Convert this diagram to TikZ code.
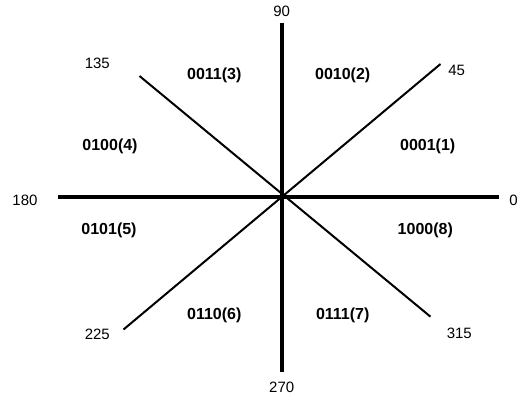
\documentclass[tikz,border=0pt]{standalone}
\usepackage{fontspec}
\setmainfont{Liberation Sans}
\begin{document}
\begin{tikzpicture}[x=1pt,y=-1pt,
  axis/.style={line width=4pt},
  diag/.style={line width=2pt},
  ang/.style={font=\fontsize{15}{15}\selectfont, inner sep=0pt},
  code/.style={font=\fontsize{16}{16}\selectfont\bfseries, inner sep=0pt}]
\useasboundingbox (0,0) rectangle (525,400);
\coordinate (c) at (282,196.5);
\coordinate (n) at (282,22.7);
\coordinate (s) at (282,371.7);
\coordinate (w) at (58.3,196.5);
\coordinate (e) at (499,196.5);
\coordinate (ne) at (440.5,64);
\coordinate (nw) at (139.5,76);
\coordinate (sw) at (123.5,329.5);
\coordinate (se) at (430.5,316.7);
\draw[axis] (w) -- (e);
\draw[axis] (n) -- (s);
\draw[diag] (ne) -- (sw);
\draw[diag] (nw) -- (se);
\node[ang] (a90) at (281.7,11.7) {90};
\node[ang] (a135) at (97.3,63.3) {135};
\node[ang] (a45) at (456.7,70.7) {45};
\node[ang] (a180) at (25,200) {180};
\node[ang] (a0) at (513.5,200) {0};
\node[ang] (a225) at (97.3,334.3) {225};
\node[ang] (a315) at (459.3,333.3) {315};
\node[ang] (a270) at (281.7,387.7) {270};
\node[code] (c3) at (214.3,75) {0011(3)};
\node[code] (c2) at (342.7,75) {0010(2)};
\node[code] (c4) at (110,146.7) {0100(4)};
\node[code] (c1) at (427.7,146.7) {0001(1)};
\node[code] (c5) at (109,230) {0101(5)};
\node[code] (c8) at (425.3,230) {1000(8)};
\node[code] (c6) at (214.3,315) {0110(6)};
\node[code] (c7) at (342.7,315) {0111(7)};
\end{tikzpicture}
\end{document}
